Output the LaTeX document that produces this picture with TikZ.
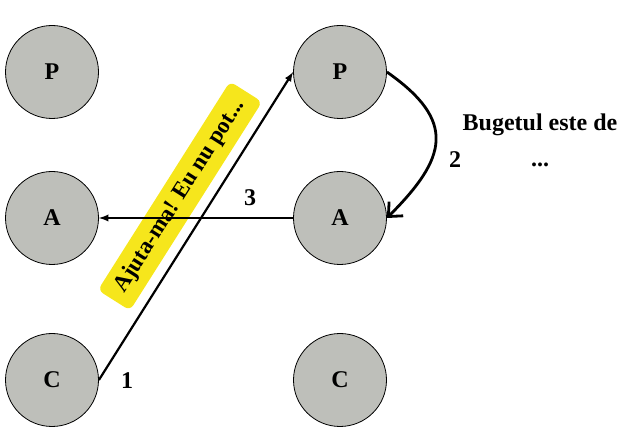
\documentclass[tikz,border=0pt]{standalone}
\usepackage{fontspec}
\setmainfont{Liberation Serif}
\usepackage{xcolor}
\usetikzlibrary{positioning,arrows,arrows.meta}
\definecolor{actorgray}{RGB}{190,191,186}
\definecolor{noteyellow}{RGB}{246,230,28}

\begin{document}
\begin{tikzpicture}[>=latex,x=1pt,y=1pt,line width=2.2pt,
		actor/.style={circle,draw,line width=0.8pt,fill=actorgray,minimum size=93pt,inner sep=0pt,font=\bfseries\fontsize{24}{26}\selectfont},
		lbl/.style={font=\bfseries\fontsize{24}{26}\selectfont},
		note/.style={rectangle,rounded corners=6pt,fill=noteyellow,minimum width=247pt,minimum height=38pt,inner sep=0pt,font=\bfseries\fontsize{23}{25}\selectfont}]
			\useasboundingbox (0,0) rectangle (637,439);
			\node[actor] (p1) at (52,367) {P};
			\node[actor] (a1) at (52,221) {A};
			\node[actor] (c1) at (52,59) {C};
			\node[actor] (p2) at (340,367) {P};
			\node[actor] (a2) at (340,221) {A};
			\node[actor] (c2) at (340,59) {C};
			
			\node[note,rotate=57.66] (help) at (180,243) {Ajuta-ma! Eu nu pot...};
			\node[lbl] (n1) at (127,58) {1};
			\node[lbl] (n2) at (455,279) {2};
			\node[lbl] (n3) at (250,241) {3};
			\node[lbl] (buget) at (540,314) {Bugetul este de};
			\node[lbl] (dots) at (540,274) {...};
	
			\draw[->] (c1.east) -- (p2.west);
			\draw[->] (a2.west) -- (a1.east);
			\draw[-{Straight Barb[length=11pt,width=20pt]},line width=2.8pt] (p2.east) to[out=-35,in=45,looseness=1.5] (a2.east);
			\end{tikzpicture}
\end{document}
